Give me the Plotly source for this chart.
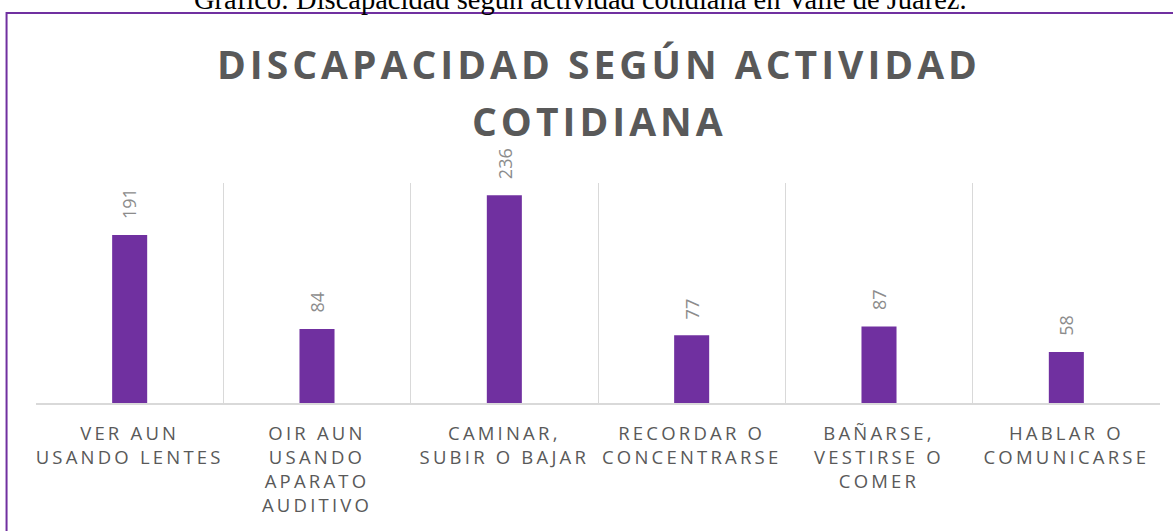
import plotly.graph_objects as go

categories = [
    "VER AUN<br>USANDO LENTES",
    "OIR AUN<br>USANDO<br>APARATO<br>AUDITIVO",
    "CAMINAR,<br>SUBIR O BAJAR",
    "RECORDAR O<br>CONCENTRARSE",
    "BAÑARSE,<br>VESTIRSE O<br>COMER",
    "HABLAR O<br>COMUNICARSE",
]
values = [191, 84, 236, 77, 87, 58]
title_lines = ["DISCAPACIDAD SEGÚN ACTIVIDAD", "COTIDIANA"]
caption = "Gráfico: Discapacidad según actividad cotidiana en Valle de Juárez."

PURPLE = "#7030A0"
GRID = "#d9d9d9"

fig = go.Figure()
fig.add_trace(go.Bar(
    x=categories, y=values, marker=dict(color=PURPLE, line=dict(width=0)),
    hoverinfo="skip",
))

annotations = []
for c, v in zip(categories, values):
    annotations.append(dict(
        x=c, y=v, xref="x", yref="y", text=str(v), textangle=-90,
        showarrow=False, xanchor="center", yanchor="bottom", yshift=14,
        font=dict(family="Open Sans", size=18, color="#8c8c8c"),
    ))

annotations.append(dict(
    x=0.5013, y=1.541, xref="paper", yref="paper", text=title_lines[0],
    showarrow=False, xanchor="center", yanchor="middle",
    font=dict(family="Open Sans", size=39, color="#595959", weight="bold"),
))
annotations.append(dict(
    x=0.5013, y=1.282, xref="paper", yref="paper", text=title_lines[1],
    showarrow=False, xanchor="center", yanchor="middle",
    font=dict(family="Open Sans", size=39, color="#595959", weight="bold"),
))
annotations.append(dict(
    x=0.484, y=1.832, xref="paper", yref="paper", text=caption,
    showarrow=False, xanchor="center", yanchor="middle",
    font=dict(family="Liberation Serif", size=28.5, color="#000000"),
))

fig.update_layout(
    width=1173, height=531,
    margin=dict(l=36, r=13, t=183, b=128),
    paper_bgcolor="white", plot_bgcolor="white",
    showlegend=False, bargap=0.813,
    annotations=annotations,
    shapes=[dict(
        type="rect", xref="paper", yref="paper",
        x0=-0.0262, x1=1.2, y0=-1.0, y1=1.7727,
        line=dict(color=PURPLE, width=2), fillcolor="rgba(0,0,0,0)", layer="above",
    )],
    xaxis=dict(
        type="category", tickson="boundaries", showgrid=True, gridcolor=GRID, gridwidth=1,
        showline=True, linecolor=GRID, linewidth=1.5, ticks="", ticklabelstandoff=13,
        tickfont=dict(family="Open Sans", size=18.5, color="#595959"),
        fixedrange=True,
    ),
    yaxis=dict(
        range=[0, 250], showgrid=False, zeroline=False, showticklabels=False,
        showline=False, fixedrange=True,
    ),
)

post = """
document.body.style.margin = '0';
document.body.style.overflow = 'hidden';
var gd = document.getElementById('{plot_id}');
gd.querySelectorAll('.xtick text').forEach(function(t){ t.style.letterSpacing = '3.2px'; });
gd.querySelectorAll('.annotation-text').forEach(function(t){
  var s = t.textContent;
  if (s.indexOf('DISCAPACIDAD SEG') === 0 || s === 'COTIDIANA') { t.style.letterSpacing = '4px'; }
});
"""

fig.write_html("out.html", config={"displayModeBar": False}, post_script=post)
